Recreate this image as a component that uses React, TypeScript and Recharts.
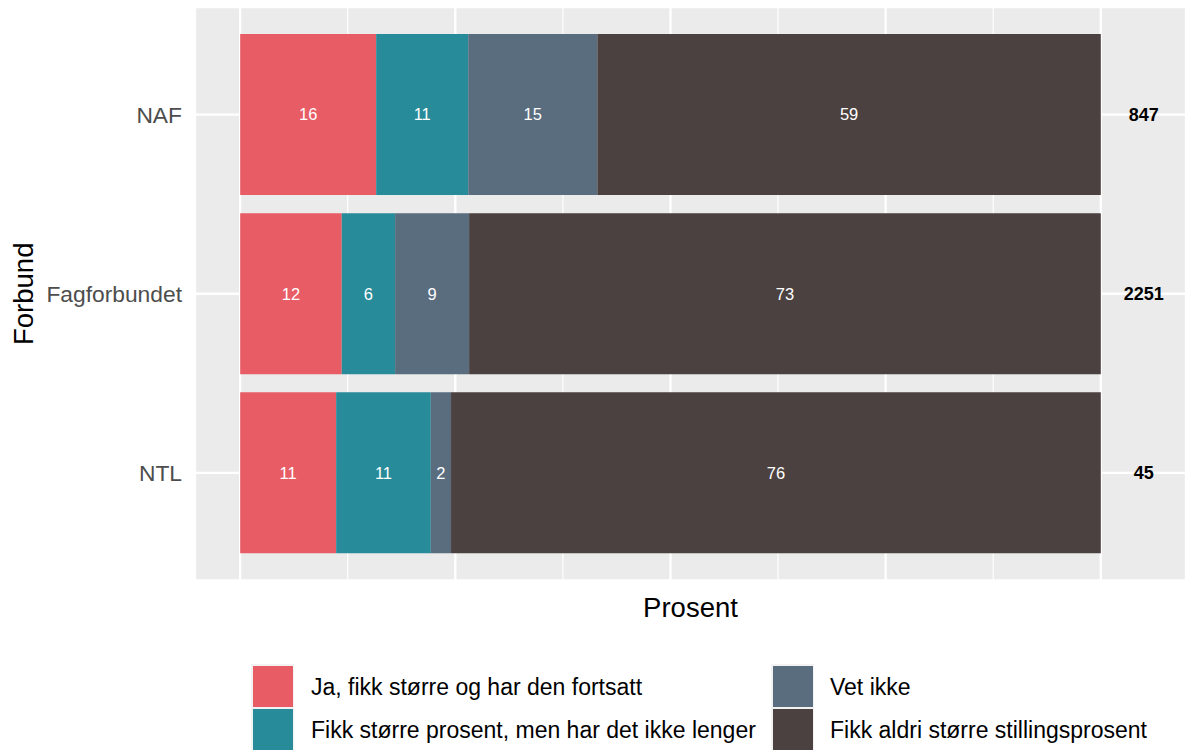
import React from 'react';
import { BarChart, Bar, XAxis, YAxis, CartesianGrid, Legend, LabelList } from 'recharts';

const forbund = ['NAF', 'Fagforbundet', 'NTL'];
// andeler i prosent (etikettene viser avrundet verdi)
const jaFortsatt = [15.8, 11.8, 11.15];
const fikkIkkeLenger = [10.7, 6.2, 11.0];
const vetIkke = [15.0, 8.6, 2.35];
const fikkAldri = [58.5, 73.4, 75.5];
const antall = [847, 2251, 45];

const majorTicks = [0, 25, 50, 75, 100];
const minorTicks = [12.5, 37.5, 62.5, 87.5];

const series = [
  { key: 'ja', name: 'Ja, fikk større og har den fortsatt', color: '#E75C65' },
  { key: 'ikkeLenger', name: 'Fikk større prosent, men har det ikke lenger', color: '#278B99' },
  { key: 'vetIkke', name: 'Vet ikke', color: '#596D7F' },
  { key: 'aldri', name: 'Fikk aldri større stillingsprosent', color: '#4B4140' },
];

const data = forbund.map((f, i) => ({
  forbund: f,
  ja: jaFortsatt[i],
  ikkeLenger: fikkIkkeLenger[i],
  vetIkke: vetIkke[i],
  aldri: fikkAldri[i],
  n: antall[i],
}));

const FONT = '"Liberation Sans", Arial, Helvetica, sans-serif';
const TOTAL_POS = 105;

const NoTick = () => <g />;

const renderTotal = (props: any) => {
  const vb = props.viewBox ?? props;
  const { x, y, width, height } = vb;
  const value = Number(props.value);
  const pxPerUnit = width / value;
  const tx = x + width + (TOTAL_POS - 100) * pxPerUnit;
  return (
    <text
      x={tx}
      y={y + height / 2}
      textAnchor="middle"
      dominantBaseline="central"
      fontFamily={FONT}
      fontSize={18}
      fontWeight="bold"
      fill="#000"
    >
      {antall[props.index]}
    </text>
  );
};

const renderLegend = () => (
  <div style={{ position: 'relative', width: 1186, height: 98, fontFamily: FONT }}>
    {series.map((s, i) => {
      const col = Math.floor(i / 2);
      const row = i % 2;
      const top = 9 + row * 43;
      return (
        <React.Fragment key={s.key}>
          <div
            style={{
              position: 'absolute',
              left: 251 + col * 520,
              top,
              width: 43,
              height: 43,
              background: '#F2F2F2',
            }}
          >
            <div style={{ position: 'absolute', left: 2, top: 1.5, width: 40, height: 41, background: s.color }} />
          </div>
          <div
            style={{
              position: 'absolute',
              left: 311 + col * 519,
              top,
              height: 43,
              lineHeight: '46px',
              fontSize: 23,
              color: '#000',
              whiteSpace: 'nowrap',
            }}
          >
            {s.name}
          </div>
        </React.Fragment>
      );
    })}
  </div>
);

export default function App() {
  return (
    <div style={{ position: 'absolute', left: 0, top: 0, width: 1186, height: 753, background: '#fff' }}>
      <BarChart
        width={1186}
        height={753}
        data={data}
        layout="vertical"
        margin={{ top: 7, right: 0, left: 0, bottom: 170.5 }}
      >
        <XAxis
          xAxisId="minor"
          type="number"
          domain={[-5.25, 109.9]}
          allowDataOverflow
          ticks={minorTicks}
          interval={0}
          tick={NoTick}
          tickLine={false}
          axisLine={false}
          height={1}
        />
        <XAxis
          xAxisId="major"
          type="number"
          domain={[-5.25, 109.9]}
          allowDataOverflow
          ticks={majorTicks}
          interval={0}
          tick={NoTick}
          tickLine={false}
          axisLine={false}
          height={1}
          label={{
            content: ({ viewBox }: any) => (
              <text
                x={viewBox.x + viewBox.width / 2}
                y={580.5 + 36}
                textAnchor="middle"
                fontFamily={FONT}
                fontSize={27.5}
                fill="#000"
              >
                Prosent
              </text>
            ),
          }}
        />
        <YAxis
          type="category"
          dataKey="forbund"
          width={195}
          padding={{ top: 18, bottom: 18 }}
          tickLine={false}
          axisLine={false}
          tickSize={0}
          tickMargin={13}
          tick={{ fill: '#4D4D4D', fontSize: 22.8, fontFamily: FONT }}
          label={{
            content: ({ viewBox }: any) => {
              const cy = viewBox.y + viewBox.height / 2;
              return (
                <text
                  x={33}
                  y={cy}
                  transform={`rotate(-90, 33, ${cy})`}
                  textAnchor="middle"
                  fontFamily={FONT}
                  fontSize={27.5}
                  fill="#000"
                >
                  Forbund
                </text>
              );
            },
          }}
        />
        <CartesianGrid xAxisId="minor" horizontal={false} stroke="#FFFFFF" strokeWidth={1.2} fill="#EBEBEB" />
        <CartesianGrid xAxisId="major" stroke="#FFFFFF" strokeWidth={2.3} />
        {series.map((s, i) => (
          <Bar
            key={s.key}
            dataKey={s.key}
            name={s.name}
            stackId="a"
            xAxisId="major"
            fill={s.color}
            barSize={161}
            isAnimationActive={false}
          >
            <LabelList
              dataKey={s.key}
              position="center"
              fill="#FFFFFF"
              fontSize={16.5}
              fontFamily={FONT}
              formatter={(v: any) => Math.round(Number(v))}
            />
            {i === series.length - 1 && <LabelList dataKey={s.key} content={renderTotal} />}
          </Bar>
        ))}
        <Legend
          layout="horizontal"
          verticalAlign="middle"
          align="center"
          content={renderLegend}
          wrapperStyle={{ left: 0, top: 655, width: 1186, height: 98 }}
        />
      </BarChart>
    </div>
  );
}
